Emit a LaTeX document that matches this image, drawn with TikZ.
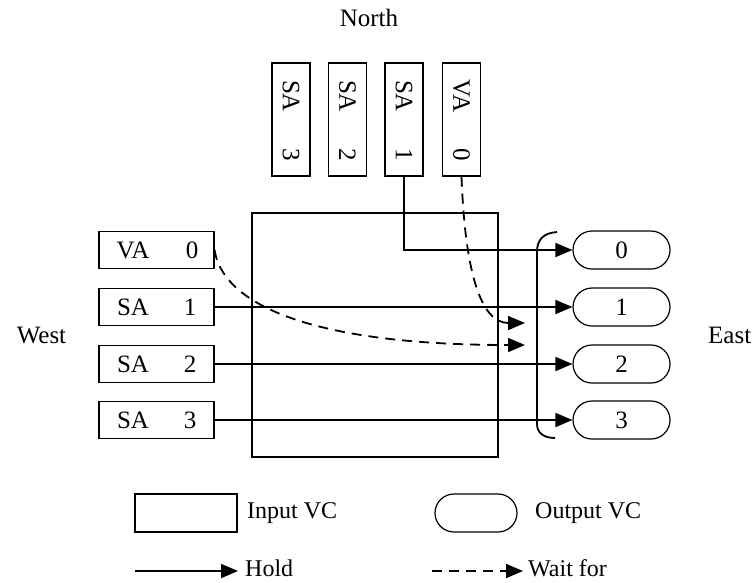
\documentclass[tikz,border=0pt]{standalone}
\usepackage{fontspec}
\setmainfont{Liberation Serif}
\usetikzlibrary{arrows.meta,shapes.misc}

\begin{document}
\begin{tikzpicture}[x=1pt,y=-1pt,
  ivc/.style={draw,line width=1.2pt,minimum width=115pt,minimum height=37pt,inner sep=0pt},
  ivcv/.style={draw,line width=1.2pt,minimum width=38pt,minimum height=113pt,inner sep=0pt},
  ovc/.style={draw,rounded rectangle,line width=1.2pt,minimum width=97pt,minimum height=38pt,inner sep=0pt},
  txt/.style={font=\fontsize{25}{29}\selectfont,inner sep=0pt},
  ltxt/.style={font=\fontsize{24}{28}\selectfont,inner sep=0pt},
  vtxt/.style={txt,rotate=-90},
  holdline/.style={line width=1.8pt,-{Triangle[length=17pt,width=14pt]}},
  waitline/.style={holdline,dash pattern=on 10pt off 7pt}
]
\useasboundingbox[fill=white] (0,0) rectangle (755,582);

% side labels
\node[txt] (north) at (369,18) {North};
\node[txt] (west) at (41.5,335) {West};
\node[txt,anchor=west] (east) at (708,335) {East};

% crossbar area
\node[draw,line width=1.2pt,minimum width=246pt,minimum height=244pt,inner sep=0pt] (xbar) at (375,335) {};

% north input VCs
\node[ivcv] (n3) at (291,119.5) {};
\node[ivcv] (n2) at (347.5,119.5) {};
\node[ivcv] (n1) at (404,119.5) {};
\node[ivcv] (n0) at (461.5,119.5) {};
\node[vtxt] (n3a) at (291,96) {SA};   \node[vtxt] (n3b) at (291,155) {3};
\node[vtxt] (n2a) at (347.5,96) {SA}; \node[vtxt] (n2b) at (347.5,155) {2};
\node[vtxt] (n1a) at (404,96) {SA};   \node[vtxt] (n1b) at (404,155) {1};
\node[vtxt] (n0a) at (461.5,96) {VA}; \node[vtxt] (n0b) at (461.5,155) {0};

% west input VCs
\node[ivc] (w0) at (156.5,250) {};
\node[ivc] (w1) at (156.5,307) {};
\node[ivc] (w2) at (156.5,364) {};
\node[ivc] (w3) at (156.5,420) {};
\node[txt] (w0a) at (133,250) {VA}; \node[txt] (w0b) at (192,250) {0};
\node[txt] (w1a) at (133,307) {SA}; \node[txt] (w1b) at (190,307) {1};
\node[txt] (w2a) at (133,364) {SA}; \node[txt] (w2b) at (190,364) {2};
\node[txt] (w3a) at (133,420) {SA}; \node[txt] (w3b) at (190,420) {3};

% east output VCs
\node[ovc] (o0) at (621.5,250) {};
\node[ovc] (o1) at (621.5,307) {};
\node[ovc] (o2) at (621.5,364) {};
\node[ovc] (o3) at (621.5,420) {};
\node[txt] (o0t) at (621.5,250) {0};
\node[txt] (o1t) at (621.5,307) {1};
\node[txt] (o2t) at (621.5,364) {2};
\node[txt] (o3t) at (621.5,420) {3};

% bracket in front of the east outputs
\draw[line width=1.8pt] (557,232) .. controls (543,233) and (537,240) .. (537,252)
  -- (537,424) .. controls (537,433) and (544,438) .. (555,438);

% hold connections
\draw[holdline] (n1.south) |- (o0.west);
\draw[holdline] (w1.east) -- (o1.west);
\draw[holdline] (w2.east) -- (o2.west);
\draw[holdline] (w3.east) -- (o3.west);

% wait-for connections
\coordinate (t1) at (525,323);
\coordinate (t2) at (525,345);
\draw[waitline] (n0.south) .. controls (465,270) and (480,323) .. (t1);
\draw[waitline] (w0.east) .. controls (222,300) and (300,345) .. (t2);

% legend
\node[draw,line width=1.2pt,minimum width=102pt,minimum height=38pt,inner sep=0pt] (lgi) at (186,513) {};
\node[ltxt,anchor=west] (lgit) at (247,513) {Input VC};
\node[ovc,minimum width=82pt] (lgo) at (476,513) {};
\node[ltxt,anchor=west] (lgot) at (535,513) {Output VC};
\coordinate (h0) at (135,571);
\node[ltxt,anchor=west] (lght) at (245,568) {Hold};
\draw[holdline] (h0) -- (h0 -| lght.west) [shorten >=7pt];
\coordinate (d0) at (432,571);
\node[ltxt,anchor=west] (lgwt) at (528,568) {Wait for};
\draw[waitline,shorten >=5pt] (d0) -- (d0 -| lgwt.west);
\end{tikzpicture}
\end{document}
